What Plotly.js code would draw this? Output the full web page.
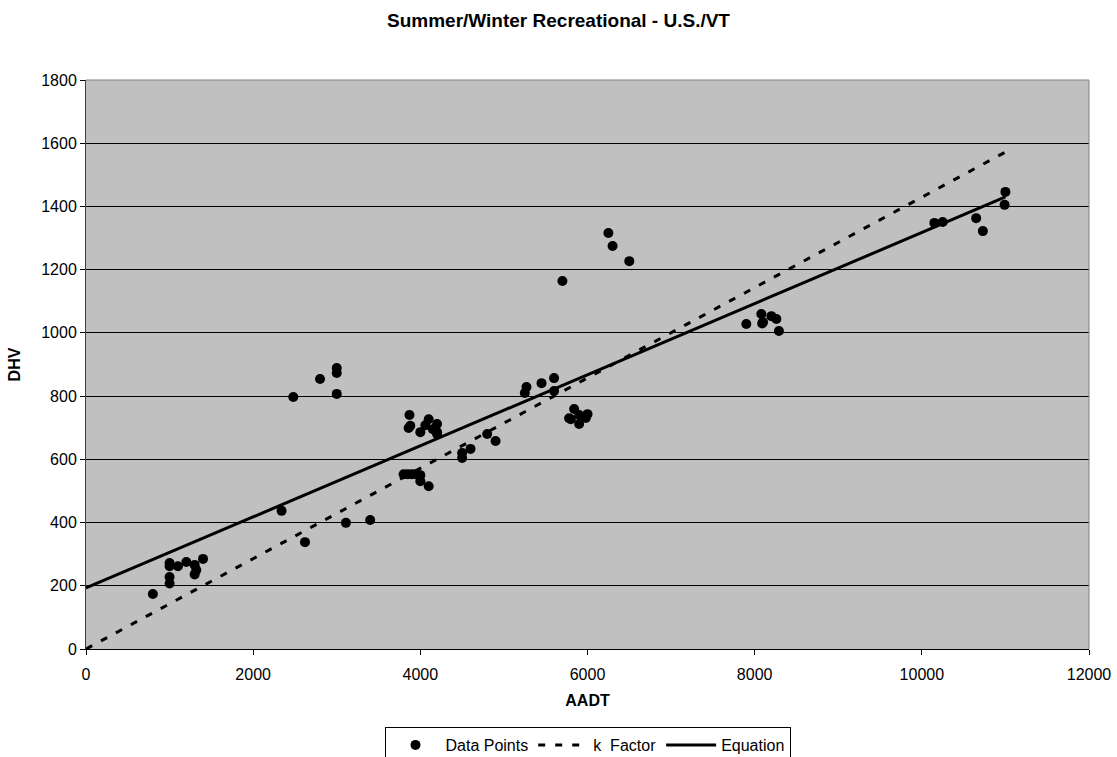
<!DOCTYPE html>
<html>
<head>
<meta charset="utf-8">
<script src="https://cdn.plot.ly/plotly-3.0.1.min.js"></script>
<style>html,body{margin:0;padding:0;background:#fff;}#chart{width:1117px;height:757px;}</style>
</head>
<body>
<div id="chart"></div>
<script>
// Data points (AADT, DHV)
const aadt = [800,1000,1000,1000,1000,1100,1200,1300,1320,1300,1400,
  2340,2620,2480,2800,3000,3000,3000,3110,3400,
  3870,3860,3880,4000,4100,4060,4200,4200,4200,4150,
  3800,3850,3900,3950,4000,4000,4100,
  4500,4500,4600,4800,4900,
  5250,5270,5450,5600,5600,
  5780,5800,5840,5900,5900,6000,5980,
  6250,6300,6500,5700,
  7900,8080,8100,8090,8200,8260,8290,
  10150,10250,10650,10730,11000,10990];
const dhv = [174,272,262,228,207,262,275,266,250,236,285,
  437,338,797,854,889,873,807,399,408,
  740,699,706,686,727,708,712,686,680,695,
  553,553,553,553,550,531,515,
  620,604,633,680,658,
  810,829,841,857,816,
  730,727,759,712,740,743,731,
  1316,1275,1227,1164,
  1028,1060,1034,1030,1053,1044,1006,
  1348,1351,1363,1322,1446,1405];
// k Factor line endpoints
const kX = [0, 11000];
const kY = [0, 1572];
// Equation line endpoints
const eqX = [0, 11000];
const eqY = [193, 1430];

const font = "Liberation Sans, Arial, sans-serif";

const traces = [
  {x: aadt, y: dhv, type: 'scatter', mode: 'markers', name: 'Data Points',
   marker: {color: '#000', size: 10, symbol: 'circle'}},
  {x: kX, y: kY, type: 'scatter', mode: 'lines', name: 'k  Factor',
   line: {color: '#000', width: 3, dash: '7px,10px'}},
  {x: eqX, y: eqY, type: 'scatter', mode: 'lines', name: 'Equation',
   line: {color: '#000', width: 3}}
];

const layout = {
  width: 1117, height: 757,
  margin: {l: 86, r: 28, t: 80, b: 108, autoexpand: false},
  paper_bgcolor: '#fff',
  plot_bgcolor: '#C0C0C0',
  font: {family: font, size: 16, color: '#000'},
  title: {text: '<b>Summer/Winter Recreational - U.S./VT</b>', font: {size: 19, family: font, color: '#000'},
    x: 0.5, xanchor: 'center', y: 1 - 20/757, yref: 'container', yanchor: 'middle'},
  xaxis: {range: [0, 12000], dtick: 2000, tick0: 0, tickformat: 'd', showgrid: false, zeroline: false,
    showline: true, linecolor: '#000', linewidth: 1, ticks: 'outside', ticklen: 5, tickcolor: '#000',
    ticklabelstandoff: 6,
    tickfont: {size: 16, family: font, color: '#000'},
    title: {text: '<b>AADT</b>', font: {size: 16, family: font}, standoff: 12}},
  yaxis: {range: [0, 1800], dtick: 200, tick0: 0, showgrid: true, gridcolor: '#000', gridwidth: 1,
    zeroline: false, showline: true, linecolor: '#404040', linewidth: 1, ticks: 'outside', ticklen: 5,
    tickcolor: '#000', tickfont: {size: 16, family: font, color: '#000'},
    title: {text: '<b>DHV</b>', font: {size: 16, family: font}, standoff: 16}},
  shapes: [
    {type: 'line', xref: 'paper', yref: 'paper', x0: 0, x1: 1, y0: 1, y1: 1, line: {color: '#808080', width: 1}},
    {type: 'line', xref: 'paper', yref: 'paper', x0: 1, x1: 1, y0: 0, y1: 1, line: {color: '#808080', width: 1}}
  ],
  showlegend: true,
  legend: {orientation: 'h', x: 0.5, xanchor: 'center', y: -(727 - 649) / 569, yanchor: 'top',
    bordercolor: '#000', borderwidth: 1, bgcolor: '#fff', font: {size: 16, family: font},
    tracegroupgap: 0, itemwidth: 50}
};

Plotly.newPlot('chart', traces, layout, {displayModeBar: false, staticPlot: true});
</script>
</body>
</html>
